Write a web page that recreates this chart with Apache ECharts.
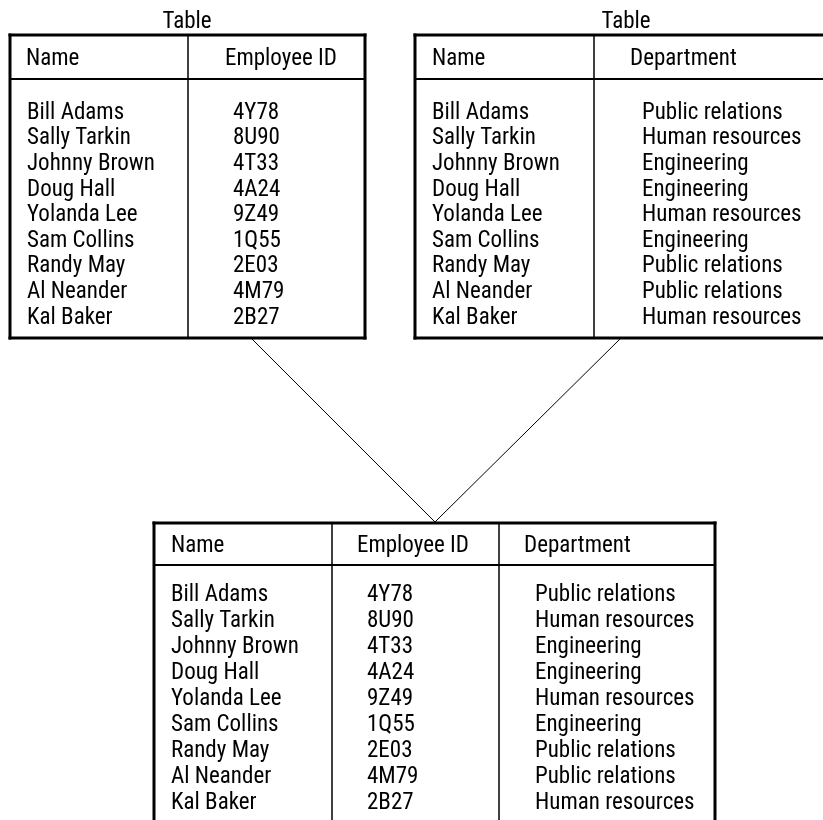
<!DOCTYPE html>
<html>
<head>
<meta charset="utf-8">
<script src="https://cdn.jsdelivr.net/npm/echarts@6/dist/echarts.min.js"></script>
<style>
html,body{margin:0;padding:0;background:#fff;}
#chart{width:823px;height:820px;}
</style>
</head>
<body>
<div id="chart"></div>
<script>
// ---- data ----
var names = ['Bill Adams','Sally Tarkin','Johnny Brown','Doug Hall','Yolanda Lee','Sam Collins','Randy May','Al Neander','Kal Baker'];
var employeeIds = ['4Y78','8U90','4T33','4A24','9Z49','1Q55','2E03','4M79','2B27'];
var departments = ['Public relations','Human resources','Engineering','Engineering','Human resources','Engineering','Public relations','Public relations','Human resources'];
var headersA = ['Name','Employee ID'];
var headersB = ['Name','Department'];
var headersC = ['Name','Employee ID','Department'];
var tableTitle = 'Table';

// ---- layout (pixel-like units of a hidden coordinate system) ----
var FONT = '23px "Liberation Sans Narrow", "Roboto Condensed", "DejaVu Sans Condensed", sans-serif';
var DY = 2.5;
var tables = [
  {cols:[10,188,365], top:35, head:79, bottom:338, headY:56.5, rowY0:110.5, rowStep:25.6,
   headX:[26,225], cellX:[27,233], headers:headersA, columns:[names, employeeIds], titleX:187, titleY:20},
  {cols:[415,594,827], top:35, head:79, bottom:338, headY:56.5, rowY0:110.5, rowStep:25.6,
   headX:[432,630], cellX:[432,642], headers:headersB, columns:[names, departments], titleX:626, titleY:20},
  {cols:[154,332,499,715], top:523, head:565, bottom:824, headY:543.5, rowY0:593, rowStep:26,
   headX:[171,357,524], cellX:[171,367,535], headers:headersC, columns:[names, employeeIds, departments]}
];
var connectors = [[252,339,435,522],[620,339,435,522]];

var textData = [];   // [x, y, text, align]
var lineData = [];   // [x1, y1, x2, y2, width]
tables.forEach(function(t){
  var L = t.cols[0], R = t.cols[t.cols.length-1];
  lineData.push([L,t.top,R,t.top,3]);
  lineData.push([L,t.bottom,R,t.bottom,3]);
  lineData.push([L,t.top,L,t.bottom,3]);
  lineData.push([R,t.top,R,t.bottom,3]);
  lineData.push([L,t.head,R,t.head,2]);
  for (var c=1;c<t.cols.length-1;c++) lineData.push([t.cols[c],t.top,t.cols[c],t.bottom,1.5]);
  if (t.titleX) textData.push([t.titleX,t.titleY+DY,tableTitle,'center']);
  t.headers.forEach(function(h,i){ textData.push([t.headX[i],t.headY+DY,h,'left']); });
  t.columns.forEach(function(col,ci){
    col.forEach(function(v,ri){ textData.push([t.cellX[ci], t.rowY0 + ri*t.rowStep + DY, v, 'left']); });
  });
});
connectors.forEach(function(c){ lineData.push([c[0],c[1],c[2],c[3],1]); });

var chart = echarts.init(document.getElementById('chart'), null, {renderer:'canvas'});
chart.setOption({
  backgroundColor:'#ffffff',
  animation:false,
  grid:{left:0,right:0,top:0,bottom:0},
  xAxis:{type:'value',min:0,max:823,show:false},
  yAxis:{type:'value',min:0,max:820,inverse:true,show:false},
  series:[
    {
      type:'custom', clip:false, silent:true,
      data:lineData,
      renderItem:function(params, api){
        var p1 = api.coord([api.value(0), api.value(1)]);
        var p2 = api.coord([api.value(2), api.value(3)]);
        return {type:'line', shape:{x1:p1[0],y1:p1[1],x2:p2[0],y2:p2[1]},
                style:{stroke:'#000',lineWidth:api.value(4),lineCap:'square'}};
      }
    },
    {
      type:'custom', clip:false, silent:true,
      data:textData,
      dimensions:['x','y','text','align'],
      renderItem:function(params, api){
        var d = textData[params.dataIndex];
        var p = api.coord([d[0], d[1]]);
        return {type:'text', x:p[0], y:p[1],
                style:{text:d[2], font:FONT, fill:'#000', align:d[3], verticalAlign:'middle'}};
      }
    }
  ]
});
</script>
</body>
</html>
